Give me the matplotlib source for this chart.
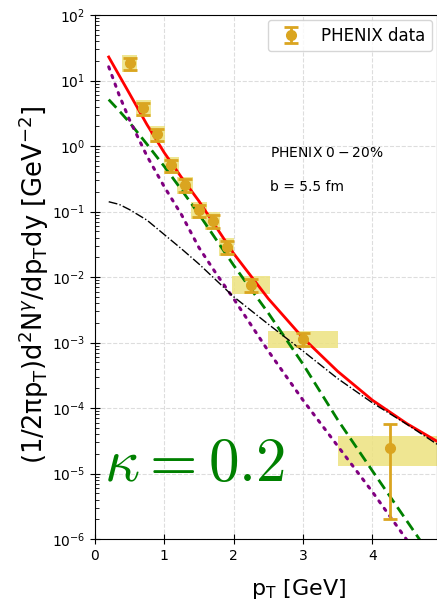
import numpy as np
import matplotlib
matplotlib.use("Agg")
import matplotlib.pyplot as plt
from matplotlib.patches import Rectangle

# PHENIX direct photon data (0-20%)
pt_data = [0.5, 0.7, 0.9, 1.1, 1.3, 1.5, 1.7, 1.9, 2.25, 3.0, 4.25]
y_data = [18.5, 3.8, 1.52, 0.51, 0.254, 0.105, 0.072, 0.0287, 0.0077, 0.00113, 2.45e-5]
stat_lo = [4.0, 0.8, 0.33, 0.11, 0.055, 0.023, 0.016, 0.0063, 0.0017, 0.00025, 2.25e-5]
stat_hi = [4.0, 0.8, 0.33, 0.11, 0.055, 0.023, 0.016, 0.0063, 0.0017, 0.00025, 3.25e-5]
sys_dx = [0.11, 0.11, 0.11, 0.11, 0.11, 0.11, 0.11, 0.11, 0.27, 0.5, 0.75]
sys_lo = [13.6, 2.8, 1.12, 0.37, 0.187, 0.077, 0.053, 0.021, 0.0056, 0.00083, 1.3e-5]
sys_hi = [25.0, 5.1, 2.05, 0.69, 0.343, 0.142, 0.097, 0.039, 0.0105, 0.00152, 3.7e-5]

# model curves (log10 values)
pt_curve = [0.2, 0.35, 0.5, 0.75, 1.0, 1.25, 1.5, 1.75, 2.0, 2.5, 3.0, 3.5, 4.0, 4.5, 5.0]
log_total = [1.36, 1.08, 0.80, 0.33, -0.10, -0.48, -0.84, -1.24, -1.64, -2.33, -2.93,
             -3.44, -3.88, -4.24, -4.55]
log_green = [0.71, 0.54, 0.36, 0.03, -0.31, -0.67, -1.04, -1.43, -1.82, -2.55, -3.33,
             -4.18, -4.96, -5.73, -6.50]
log_purple = [1.21, 0.78, 0.40, -0.15, -0.62, -1.05, -1.55, -1.95, -2.33, -3.13, -3.88,
              -4.58, -5.28, -6.02, -6.70]
log_black = [-0.85, -0.89, -0.97, -1.13, -1.35, -1.57, -1.80, -2.05, -2.30, -2.72, -3.13,
             -3.55, -3.92, -4.25, -4.60]

fig = plt.figure(figsize=(4.37, 6.03), dpi=100)
ax = fig.add_axes([0.217, 0.106, 0.783, 0.869])

ax.plot(pt_curve, 10**np.array(log_total), color='red', lw=2, zorder=4)
ax.plot(pt_curve, 10**np.array(log_green), color='green', lw=2, ls=(0, (4, 2)), zorder=4)
ax.plot(pt_curve, 10**np.array(log_purple), color='purple', lw=2.2, ls=(0, (0.8, 2.2)),
        dash_capstyle='round', zorder=4)
ax.plot(pt_curve, 10**np.array(log_black), color='black', lw=1, ls='-.', zorder=4)

for x, dx, lo, hi in zip(pt_data, sys_dx, sys_lo, sys_hi):
    ax.add_patch(Rectangle((x - dx, lo), 2 * dx, hi - lo, facecolor='#ede27f',
                           edgecolor='none', alpha=0.85, zorder=2))

ax.errorbar(pt_data, y_data, yerr=[stat_lo, stat_hi], fmt='o', color='#daa520',
            ms=7, elinewidth=2, capsize=5, capthick=2, label='PHENIX data', zorder=5)

ax.set_yscale('log')
ax.set_xlim(0, 4.93)
ax.set_ylim(1e-6, 1e2)
ax.set_xticks([0, 1, 2, 3, 4])
ax.grid(True, which='major', ls='--', color='#dddddd', lw=0.8)
ax.tick_params(which='major', direction='inout', length=7, labelsize=10)
ax.tick_params(which='minor', direction='in', length=3)

ax.set_xlabel(r'p$_\mathrm{T}$ [GeV]', fontsize=16)
ax.xaxis.set_label_coords(0.594, -0.072)
ax.set_ylabel(r'(1/2$\mathrm{\pi}$p$_\mathrm{T}$)d$^2$N$^\gamma$/dp$_\mathrm{T}$dy [GeV$^{-2}$]',
              fontsize=18.5)
ax.yaxis.set_label_coords(-0.127, 0.485)

ax.text(2.53, 10**(-0.107), r'PHENIX $0-20\%$', fontsize=10, va='center')
ax.text(2.53, 10**(-0.63), 'b = 5.5 fm', fontsize=10, va='center')
ax.text(0.13, 10**(-5.11), r'$\kappa=0.2$', color='green', fontsize=44,
        math_fontfamily='cm', va='baseline')

ax.legend(loc='upper right', fontsize=12, borderaxespad=0.3)

fig.savefig('out.png', dpi=100)
